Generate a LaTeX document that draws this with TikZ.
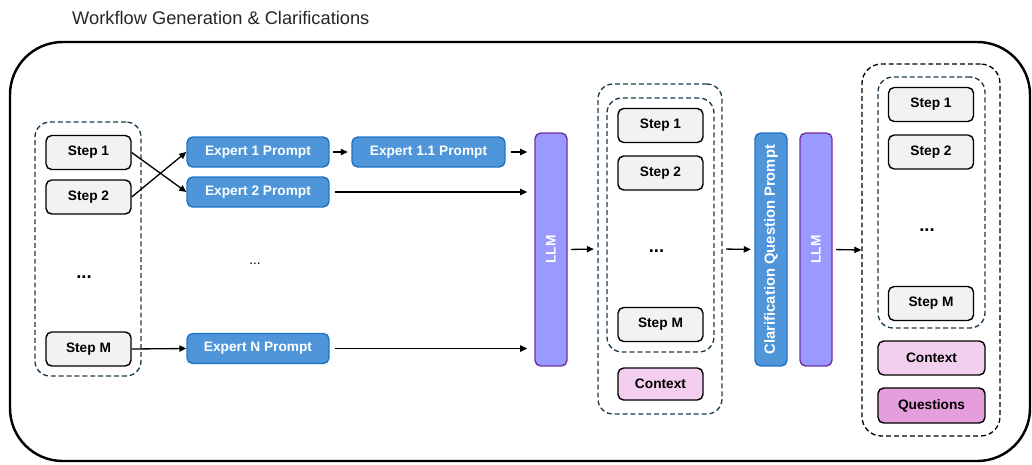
\documentclass[tikz,border=0pt]{standalone}
\usepackage{fontspec}
\setmainfont{Liberation Sans}
\usetikzlibrary{arrows.meta}

\definecolor{stepgray}{HTML}{F2F2F2}
\definecolor{promptblue}{HTML}{4E95D9}
\definecolor{promptedge}{HTML}{1F73C4}
\definecolor{llmfill}{HTML}{9999FF}
\definecolor{llmedge}{HTML}{7030A0}
\definecolor{ctxpink}{HTML}{F2CFEE}
\definecolor{qpink}{HTML}{E59EDD}
\definecolor{grpedge}{HTML}{1B3A4B}

\tikzset{
  box/.style = {draw, rounded corners=3.2pt, line width=0.8pt, inner sep=0pt,
    font=\fontsize{7.8}{9}\selectfont\bfseries},
  stepbox/.style = {box, fill=stepgray, minimum width=1.7cm, minimum height=0.68cm},
  prompt/.style = {box, draw=promptedge, fill=promptblue, text=white,
    minimum width=2.84cm, minimum height=0.6cm},
  bar/.style = {box, text=white, minimum width=0.64cm, minimum height=4.66cm},
  llm/.style = {bar, draw=llmedge, fill=llmfill},
  group/.style = {draw=grpedge, line width=0.75pt, dash pattern=on 2.8pt off 1.7pt,
    rounded corners=8.5pt},
  dots/.style = {font=\fontsize{10.5}{10}\selectfont\bfseries},
  flow/.style = {-{Triangle[length=4pt, width=3.6pt]}, line width=0.75pt},
}

\begin{document}
\begin{tikzpicture}[x=0.02cm, y=-0.02cm]
  \useasboundingbox (0,0) rectangle (1032,464);
  \node [anchor=west, font=\fontsize{10.4}{12}\selectfont, text=black!85] (title) at (66,18)
    {Workflow Generation \& Clarifications};
  \draw [line width=1.4pt, rounded corners=30pt] (10,42) rectangle (1030,461);

  % steps of the workflow
  \node [group, minimum width=2.12cm, minimum height=5.08cm] (ga) at (88,249) {};
  \node [stepbox] (a1) at (88.5,152.5) {Step 1};
  \node [stepbox] (a2) at (88.5,197) {Step 2};
  \node [dots] (ad) at (84,277) {...};
  \node [stepbox] (am) at (88.5,349) {Step M};

  % expert prompts
  \node [prompt] (e1) at (258,152) {Expert 1 Prompt};
  \node [prompt] (e2) at (258,192) {Expert 2 Prompt};
  \node [prompt, minimum width=3.06cm] (e11) at (428.5,152) {Expert 1.1 Prompt};
  \node [font=\fontsize{7.8}{9}\selectfont] (ed) at (255,264) {...};
  \node [prompt] (en) at (258,348.5) {Expert N Prompt};

  \node [llm] (llm1) at (551,249.5) {\rotatebox{90}{LLM}};
  \node [bar, draw=promptedge, fill=promptblue] (cqp) at (771,249.5)
    {\rotatebox{90}{\fontsize{8.4}{9}\selectfont Clarification Question Prompt}};
  \node [llm] (llm2) at (816,249.5) {\rotatebox{90}{LLM}};

  % generated workflow and clarified workflow
  \node [group, minimum width=2.48cm, minimum height=6.6cm] (gb) at (660,249) {};
  \node [group, minimum width=2.14cm, minimum height=5.08cm] (gbi) at (660.5,225) {};
  \node [group, draw=black, rounded corners=11pt, minimum width=2.76cm,
    minimum height=7.44cm] (gc) at (931,250) {};
  \node [group, minimum width=2.14cm, minimum height=5.02cm] (gci) at (931.5,202.5) {};
  \foreach \g/\x/\y in {b/660.5/125.5, c/931/104.5} {
    \node [stepbox] (\g1) at (\x,\y) {Step 1};
    \node [stepbox] (\g2) at (\x,\y+47.5) {Step 2};
    \node [dots] (\g d) at (\x-4,\y+126) {...};
    \node [stepbox] (\g m) at (\x,\y+199) {Step M};
  }
  \node [box, fill=ctxpink, minimum width=1.7cm, minimum height=0.64cm] (bctx) at (660.5,384) {Context};
  \node [box, fill=ctxpink, minimum width=2.14cm, minimum height=0.68cm] (cctx) at (931.5,358) {Context};
  \node [box, fill=qpink, minimum width=2.14cm, minimum height=0.7cm] (cq) at (931.5,405.5) {Questions};

  \draw [flow] (a1.east) -- (e2.west);
  \draw [flow] (a2.east) -- (e1.west);
  \draw [flow] (am.east) -- (en.west);
  \draw [flow, shorten <=2pt, shorten >=2pt] (e1.east) -- (e11.west);
  \draw [flow, shorten <=3pt, shorten >=4pt] (e11.east) -- (e11.east -| llm1.west);
  \draw [flow, shorten <=3pt, shorten >=4pt] (e2.east) -- (e2.east -| llm1.west);
  \draw [flow, shorten <=3pt, shorten >=4pt] (en.east) -- (en.east -| llm1.west);
  \draw [flow, shorten <=2pt, shorten >=2pt] (llm1.east) -- (gb.west);
  \draw [flow, shorten <=2pt, shorten >=2pt] (gb.east) -- (cqp.west);
  \draw [flow, shorten <=2pt, shorten >=0pt] (llm2.east) -- (gc.west);
\end{tikzpicture}
\end{document}
